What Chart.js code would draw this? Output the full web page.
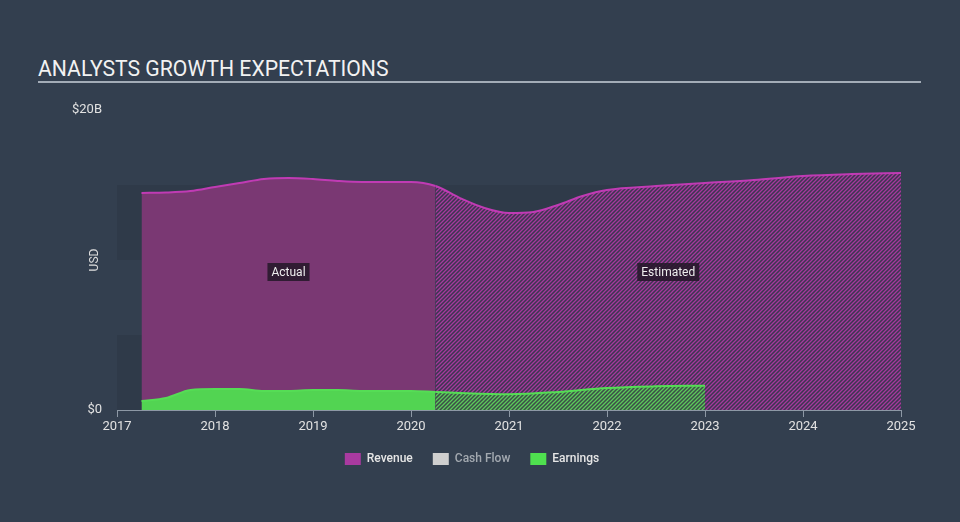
<!DOCTYPE html>
<html>
<head>
<meta charset="utf-8">
<script src="https://cdn.jsdelivr.net/npm/chart.js@4/dist/chart.umd.min.js"></script>
<style>
  html, body { margin: 0; padding: 0; background: #333f4f; }
  #wrap { position: relative; width: 960px; height: 522px; }
  #title {
    position: absolute; left: 38px; top: 57px; width: 883px;
    font-family: Roboto, sans-serif; font-size: 21.2px; color: #f2f2f2;
    border-bottom: 2px solid #a3acb7; padding-bottom: 0px; line-height: 24px;
  }
  canvas { position: absolute; left: 0; top: 0; }
</style>
</head>
<body>
<div id="wrap">
  <div id="title">ANALYSTS GROWTH EXPECTATIONS</div>
  <canvas id="chart" width="960" height="522"></canvas>
</div>
<script>
// valeurs (milliards USD)
const revenueYears = [2017.25, 2017.5, 2017.75, 2018, 2018.25, 2018.5, 2018.75, 2019, 2019.25, 2019.5, 2019.75, 2020, 2020.25, 2020.5, 2020.75, 2021, 2021.25, 2021.5, 2021.75, 2022, 2022.5, 2023, 2023.5, 2024, 2024.5, 2025];
const revenue = [14.47, 14.5, 14.6, 14.87, 15.13, 15.4, 15.47, 15.4, 15.27, 15.2, 15.2, 15.2, 14.93, 14.13, 13.47, 13.13, 13.2, 13.67, 14.27, 14.67, 14.93, 15.13, 15.33, 15.6, 15.73, 15.8];
const earningsYears = [2017.25, 2017.5, 2017.75, 2018, 2018.25, 2018.5, 2018.75, 2019, 2019.25, 2019.5, 2020, 2020.25, 2020.5, 2021, 2021.5, 2022, 2022.5, 2023];
const earnings = [0.6, 0.8, 1.33, 1.4, 1.4, 1.27, 1.27, 1.33, 1.33, 1.27, 1.27, 1.2, 1.13, 1.05, 1.2, 1.47, 1.58, 1.62];
const splitYear = 2020.25;   // fin des valeurs réelles
const yTicks = [0, 20];
const bands = [[0, 5], [10, 15]];
const legendNames = ['Revenue', 'Cash Flow', 'Earnings'];

function hatch(bg, fg) {
  const c = document.createElement('canvas');
  c.width = 4; c.height = 4;
  const g = c.getContext('2d');
  g.fillStyle = bg; g.fillRect(0, 0, 4, 4);
  g.strokeStyle = fg; g.lineWidth = 1.3;
  g.beginPath();
  g.moveTo(-1, 5); g.lineTo(5, -1);
  g.moveTo(-1, 1); g.lineTo(1, -1);
  g.moveTo(3, 5); g.lineTo(5, 3);
  g.stroke();
  return g.createPattern(c, 'repeat');
}
const ctx = document.getElementById('chart').getContext('2d');
const revHatch = hatch('#3c3550', '#a6399d');
const earnHatch = hatch('#3d4d48', '#5bcb5b');

const toPts = (xs, ys) => xs.map((x, i) => ({ x: x, y: ys[i] }));

// bandes de fond + libellés Actual / Estimated + titre USD
const decor = {
  id: 'decor',
  beforeDatasetsDraw(chart) {
    const { ctx, chartArea: a, scales: { y } } = chart;
    ctx.save();
    ctx.fillStyle = 'rgba(0,0,0,0.07)';
    bands.forEach(([lo, hi]) => {
      const t = y.getPixelForValue(hi), b = y.getPixelForValue(lo);
      ctx.fillRect(a.left, t, a.right - a.left, b - t);
    });
    ctx.restore();
  },
  afterDatasetsDraw(chart) {
    const { ctx, chartArea: a, scales: { x, y } } = chart;
    ctx.save();
    ctx.font = '12px Roboto, sans-serif';
    ctx.textAlign = 'center';
    ctx.textBaseline = 'middle';
    const yy = y.getPixelForValue(9.2);
    const xs = x.getPixelForValue(revenueYears[0]);
    const xm = x.getPixelForValue(splitYear);
    const xe = x.getPixelForValue(revenueYears[revenueYears.length - 1]);
    [['Actual', (xs + xm) / 2], ['Estimated', (xm + xe) / 2]].forEach(([t, cx]) => {
      const w = ctx.measureText(t).width + 8;
      ctx.fillStyle = 'rgba(38,24,42,0.88)';
      ctx.fillRect(cx - w / 2, yy - 9, w, 18);
      ctx.fillStyle = '#eeeeee';
      ctx.fillText(t, cx, yy + 1);
    });
    ctx.translate(95, (a.top + a.bottom) / 2);
    ctx.rotate(-Math.PI / 2);
    ctx.fillStyle = '#dddddd';
    ctx.fillText('USD', 0, 0);
    ctx.restore();
  }
};

const seg = (solid, pat) => ({
  backgroundColor: c => (c.p0.parsed.x >= splitYear ? pat : solid)
});

new Chart(ctx, {
  type: 'line',
  data: {
    datasets: [
      { label: 'Revenue', data: toPts(revenueYears, revenue), order: 2,
        borderColor: '#c03bb4', borderWidth: 2, backgroundColor: '#7a3873',
        fill: 'origin', pointRadius: 0, cubicInterpolationMode: 'monotone',
        segment: seg('#7a3873', revHatch) },
      { label: 'Earnings', data: toPts(earningsYears, earnings), order: 1,
        borderColor: '#55dd55', borderWidth: 2, backgroundColor: '#52d452',
        fill: 'origin', pointRadius: 0, cubicInterpolationMode: 'monotone',
        segment: seg('#52d452', earnHatch) }
    ]
  },
  options: {
    responsive: false,
    animation: false,
    layout: { padding: { left: 43, right: 59, top: 110, bottom: 47 } },
    scales: {
      x: {
        type: 'linear', min: 2017, max: 2025,
        ticks: { stepSize: 1, color: '#e2e2e2', font: { family: 'Roboto', size: 13 }, padding: 2,
          callback: v => String(v) },
        grid: { display: true, drawOnChartArea: false, drawTicks: true, tickLength: 7, color: '#8d98a5' },
        border: { display: true, color: '#8d98a5', width: 1 },
        afterFit: s => { s.height = 23; }
      },
      y: {
        min: 0, max: 20,
        afterBuildTicks: s => { s.ticks = yTicks.map(v => ({ value: v })); },
        ticks: { color: '#e2e2e2', font: { family: 'Roboto', size: 13 }, padding: 7,
          callback: v => (v === 0 ? '$0' : '$' + v + 'B') },
        grid: { display: false },
        border: { display: false },
        afterFit: s => { s.width = 74; }
      }
    },
    plugins: {
      tooltip: { enabled: false },
      legend: {
        position: 'bottom',
        onClick: null,
        labels: {
          boxWidth: 16, boxHeight: 12, padding: 20,
          font: { family: 'Roboto', size: 12, weight: '500' },
          generateLabels: () => {
            const cols = ['#a93aa0', '#cfcfcf', '#4fe04f'];
            const txt = ['#e6e6e6', '#a3a9b0', '#e6e6e6'];
            return legendNames.map((n, i) => ({
              text: n, fillStyle: cols[i], strokeStyle: cols[i], lineWidth: 0,
              fontColor: txt[i], hidden: false
            }));
          }
        }
      }
    }
  },
  plugins: [decor]
});
</script>
</body>
</html>
